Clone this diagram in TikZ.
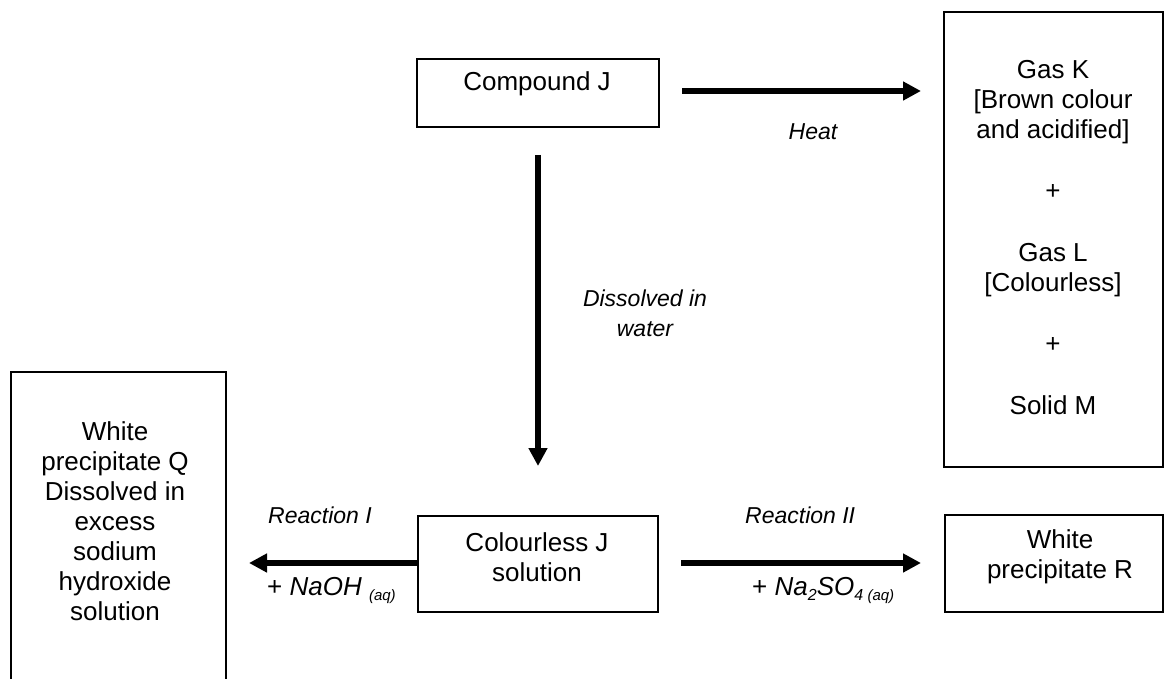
\documentclass[tikz,border=0pt]{standalone}
\usepackage{fontspec}
\setmainfont{Liberation Sans}
\usepackage{tikz}
\usetikzlibrary{arrows.meta, positioning, calc}

\tikzset{
  chembox/.style={draw, line width=2pt, inner sep=0pt, anchor=north west},
  txt/.style={align=center, inner sep=0pt},
  cond/.style={align=center, inner sep=0pt, font=\fontsize{23}{30}\selectfont\itshape},
  reagent/.style={inner sep=0pt, font=\fontsize{26}{30}\selectfont\itshape},
  bigarrow/.style={-{Triangle[width=18pt, length=18pt]}, line width=5.7pt},
}
\newcommand{\aqsub}{\raisebox{-5pt}{\fontsize{15}{15}\selectfont\itshape(aq)}}
\newcommand{\lowsub}[1]{\raisebox{-5pt}{\fontsize{16}{16}\selectfont #1}}

\begin{document}
\begin{tikzpicture}[x=1pt, y=-1pt, font=\fontsize{26}{30}\selectfont]
    \useasboundingbox (0,0) rectangle (1169,679);

    % boxes
    \node[chembox, minimum width=242pt, minimum height=68pt] (jbox) at (416,58) {};
    \node[chembox, minimum width=219pt, minimum height=455pt] (gasbox) at (943,11) {};
    \node[chembox, minimum width=215pt, minimum height=330pt] (qbox) at (10,371) {};
    \node[chembox, minimum width=240pt, minimum height=96pt] (solbox) at (417,515) {};
    \node[chembox, minimum width=218pt, minimum height=97pt] (rbox) at (944,514) {};

    % box texts
    \node[txt] (jtext) at (537,84) {Compound J};
    \node[txt, anchor=north] (gastext) at (1053,60) {Gas K\\ {[}Brown colour\\ and acidified]\\[31.5pt] +\\[31.5pt] Gas L\\ {[}Colourless]\\[31.5pt] +\\[31.5pt] Solid M};
    \node[txt, anchor=north] (qtext) at (115,421) {White\\ precipitate Q\\ Dissolved in\\ excess\\ sodium\\ hydroxide\\ solution};
    \node[txt] (soltext) at (537,557) {Colourless J\\ solution};
    \node[txt] (rtext) at (1060,557) {White\\ precipitate R};

    % arrow ends
    \coordinate (heatS) at (682,91);
    \coordinate (heatE) at (921,91);
    \coordinate (dissS) at (538,155);
    \coordinate (dissE) at (538,466);
    \coordinate (naohE) at (249,563);
    \coordinate (sulfS) at (681,563);
    \coordinate (sulfE) at (921,563);

    \draw[bigarrow] (heatS) -- (heatE);
    \draw[bigarrow] (dissS) -- (dissE);
    \draw[bigarrow] (solbox.west |- naohE) -- (naohE);
    \draw[bigarrow] (sulfS) -- (sulfE);

    % conditions
    \node[cond] (heat) at (813,132) {Heat};
    \node[cond] (diss) at (645,313) {Dissolved in\\ water};
    \node[cond, anchor=west] (reac1) at (268,515) {Reaction I};
    \node[reagent, anchor=west] (naoh) at (267,590) {\upshape+ \itshape NaOH \aqsub};
    \node[cond, anchor=west] (reac2) at (745,515) {Reaction II};
    \node[reagent, anchor=west] (sulf) at (752,590) {\upshape+ \itshape Na\lowsub{2}SO\lowsub{4}\,\aqsub};
\end{tikzpicture}
\end{document}
